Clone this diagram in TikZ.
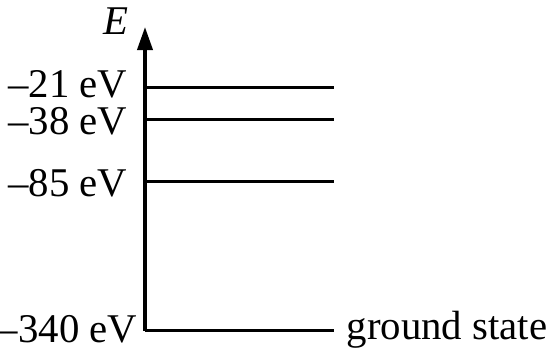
\documentclass[tikz,border=0pt]{standalone}
\usepackage{fontspec}
\setmainfont{Liberation Serif}
\usetikzlibrary{arrows.meta, positioning}

\tikzset{
  level/.style={line width=0.75pt},
  axisline/.style={line width=0.9pt, -{Triangle[length=5.8pt, width=3.8pt]}},
  energy/.style={anchor=east, inner sep=0pt, font=\fontsize{10.2}{12}\selectfont}
}

\begin{document}
\begin{tikzpicture}[x=0.25pt, y=0.25pt]
    \useasboundingbox (0,0) rectangle (550,352);

    % Energy axis
    \coordinate (ground) at (145,21);
    \coordinate (top) at (145,325);
    \draw[axisline] (ground) -- (top);
    \node[font=\fontsize{10.2}{12}\selectfont\itshape] (E) at (116,330.5) {E};

    % Excited levels
    \foreach \y/\ly/\val [count=\i] in {264/267.5/21, 232/231/38, 170/168.5/85} {
        \coordinate (a\i) at (145,\y);
        \coordinate (b\i) at (334,\y);
        \draw[level] (a\i) -- (b\i);
        \node[energy] (lab\i) at (128,\ly) {--\val\ eV};
    }

    % Ground state
    \coordinate (g) at (334,21);
    \draw[level] (ground) -- (g);
    \node[energy] (lab0) at (138,23) {--340 eV};
    \node[energy, anchor=base west] (gs) at (346,12) {ground state};
\end{tikzpicture}
\end{document}
